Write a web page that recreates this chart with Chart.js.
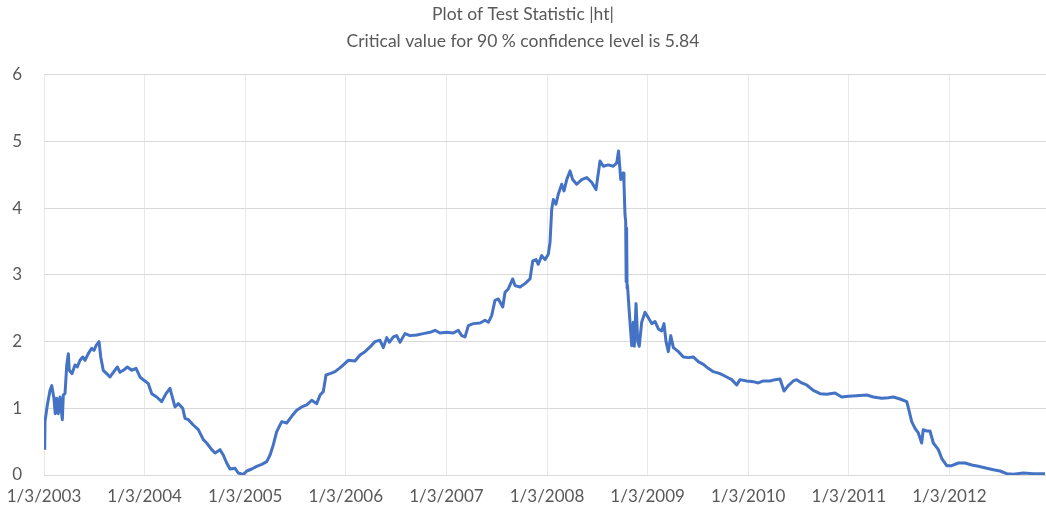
<!DOCTYPE html>
<html>
<head>
<meta charset="utf-8">
<title>Plot of Test Statistic |ht|</title>
<script src="https://cdn.jsdelivr.net/npm/chart.js@4"></script>
<style>
  body { margin: 0; background: #fff; }
</style>
</head>
<body>
<canvas id="myChart" width="1046" height="515"></canvas>
<script>
'use strict';

// observation time as decimal years (2003.0 = 1/3/2003)
var timeYears = [
  2003.007, 2003.010, 2003.033, 2003.060, 2003.077, 2003.099, 2003.112, 2003.126, 2003.142, 2003.159,
  2003.182, 2003.192, 2003.209, 2003.226, 2003.242, 2003.251, 2003.278, 2003.308, 2003.331, 2003.358,
  2003.385, 2003.408, 2003.440, 2003.474, 2003.497, 2003.517, 2003.547, 2003.564, 2003.589, 2003.623,
  2003.656, 2003.689, 2003.729, 2003.755, 2003.788, 2003.828, 2003.872, 2003.915, 2003.954, 2003.994,
  2004.037, 2004.071, 2004.120, 2004.170, 2004.213, 2004.252, 2004.279, 2004.302, 2004.335, 2004.379,
  2004.402, 2004.434, 2004.484, 2004.534, 2004.584, 2004.617, 2004.667, 2004.700, 2004.750, 2004.782,
  2004.816, 2004.849, 2004.899, 2004.931, 2004.981,
  2005.016, 2005.065, 2005.114, 2005.164, 2005.214, 2005.247, 2005.279, 2005.313, 2005.363, 2005.412,
  2005.462, 2005.512, 2005.562, 2005.611, 2005.661, 2005.711, 2005.744, 2005.776, 2005.803, 2005.843,
  2005.893, 2005.935, 2005.975,
  2006.025, 2006.091, 2006.141, 2006.191, 2006.241, 2006.290, 2006.340, 2006.373, 2006.407, 2006.433,
  2006.472, 2006.506, 2006.539, 2006.588, 2006.638, 2006.705, 2006.770, 2006.837, 2006.887, 2006.936,
  2007.003, 2007.069, 2007.118, 2007.152, 2007.185, 2007.218, 2007.267, 2007.334, 2007.384, 2007.417,
  2007.450, 2007.483, 2007.516, 2007.560, 2007.583, 2007.615, 2007.659, 2007.682, 2007.732, 2007.781,
  2007.831, 2007.858, 2007.891, 2007.913, 2007.947, 2007.980,
  2008.013, 2008.030, 2008.047, 2008.063, 2008.089, 2008.112, 2008.146, 2008.169, 2008.196, 2008.229,
  2008.255, 2008.295, 2008.345, 2008.395, 2008.444, 2008.487, 2008.527, 2008.560, 2008.609, 2008.659,
  2008.693, 2008.711, 2008.733, 2008.756, 2008.765, 2008.775, 2008.782, 2008.787, 2008.791, 2008.796,
  2008.800, 2008.818, 2008.842, 2008.858, 2008.868, 2008.885, 2008.902, 2008.917, 2008.941, 2008.974,
  2009.007, 2009.041, 2009.074, 2009.107, 2009.140, 2009.163, 2009.183, 2009.206, 2009.230, 2009.256,
  2009.306, 2009.355, 2009.405, 2009.454, 2009.504, 2009.554, 2009.603, 2009.653, 2009.720, 2009.786,
  2009.836, 2009.886, 2009.918, 2009.985,
  2010.051, 2010.100, 2010.150, 2010.217, 2010.266, 2010.316, 2010.356, 2010.398, 2010.448, 2010.482,
  2010.531, 2010.581, 2010.647, 2010.714, 2010.780, 2010.863, 2010.929, 2010.995,
  2011.078, 2011.178, 2011.244, 2011.327, 2011.393, 2011.443, 2011.509, 2011.576, 2011.601, 2011.625,
  2011.658, 2011.691, 2011.724, 2011.740, 2011.774, 2011.807, 2011.840, 2011.890, 2011.923, 2011.973,
  2012.023, 2012.089, 2012.155, 2012.222, 2012.288, 2012.371, 2012.437, 2012.503, 2012.570, 2012.635,
  2012.735, 2012.834, 2012.950
];

// |ht|
var htValues = [
  0.38, 0.80, 1.05, 1.27, 1.34, 1.15, 0.92, 1.15, 0.92, 1.17,
  0.83, 1.20, 1.22, 1.65, 1.82, 1.57, 1.52, 1.65, 1.62, 1.72,
  1.77, 1.72, 1.82, 1.90, 1.87, 1.94, 2.00, 1.77, 1.57, 1.52,
  1.47, 1.54, 1.62, 1.54, 1.57, 1.62, 1.57, 1.60, 1.47, 1.42,
  1.37, 1.22, 1.17, 1.10, 1.22, 1.30, 1.15, 1.02, 1.07, 1.00,
  0.85, 0.83, 0.75, 0.68, 0.53, 0.48, 0.38, 0.33, 0.38, 0.30,
  0.18, 0.09, 0.10, 0.03, 0.01,
  0.06, 0.09, 0.13, 0.16, 0.20, 0.30, 0.45, 0.65, 0.80, 0.78,
  0.88, 0.97, 1.02, 1.05, 1.12, 1.07, 1.20, 1.25, 1.50, 1.52,
  1.55, 1.60, 1.65,
  1.72, 1.71, 1.80, 1.85, 1.92, 2.00, 2.02, 1.91, 2.06, 1.99,
  2.07, 2.09, 1.99, 2.12, 2.09, 2.10, 2.12, 2.14, 2.17, 2.13,
  2.14, 2.13, 2.17, 2.09, 2.07, 2.24, 2.27, 2.28, 2.32, 2.29,
  2.39, 2.62, 2.64, 2.52, 2.74, 2.79, 2.94, 2.84, 2.82, 2.87,
  2.94, 3.21, 3.23, 3.16, 3.29, 3.23,
  3.31, 3.49, 3.99, 4.13, 4.06, 4.21, 4.36, 4.26, 4.43, 4.56,
  4.43, 4.36, 4.43, 4.46, 4.39, 4.28, 4.71, 4.63, 4.65, 4.63,
  4.68, 4.86, 4.43, 4.53, 4.38, 3.91, 3.80, 2.90, 3.70, 2.80,
  2.84, 2.44, 1.94, 2.29, 1.93, 2.57, 2.00, 1.93, 2.29, 2.44,
  2.36, 2.27, 2.30, 2.19, 2.16, 2.27, 2.00, 1.85, 2.09, 1.91,
  1.85, 1.77, 1.76, 1.77, 1.70, 1.66, 1.60, 1.55, 1.52, 1.47,
  1.43, 1.35, 1.43, 1.41,
  1.40, 1.38, 1.41, 1.41, 1.43, 1.44, 1.26, 1.34, 1.41, 1.43,
  1.38, 1.35, 1.27, 1.22, 1.21, 1.23, 1.17, 1.18,
  1.19, 1.20, 1.17, 1.15, 1.16, 1.17, 1.14, 1.10, 0.95, 0.80,
  0.70, 0.63, 0.48, 0.68, 0.66, 0.66, 0.48, 0.38, 0.25, 0.14,
  0.14, 0.18, 0.18, 0.15, 0.13, 0.10, 0.08, 0.06, 0.02, 0.01,
  0.03, 0.02, 0.02
];

var tickYears = [2003, 2004, 2005, 2006, 2007, 2008, 2009, 2010, 2011, 2012];
var tickLabels = ['1/3/2003', '1/3/2004', '1/3/2005', '1/3/2006', '1/3/2007',
                  '1/3/2008', '1/3/2009', '1/3/2010', '1/3/2011', '1/3/2012'];

var titleLines = ['Plot of Test Statistic |ht|', 'Critical value for 90 % confidence level is 5.84'];

var textColor = '#595959';
var fontFamily = 'Lato, "Open Sans", sans-serif';

const points = timeYears.map(function (t, i) {
    return { x: t, y: htValues[i] };
});

const data = {
    datasets: [{
        label: '|ht|',
        data: points,
        borderColor: '#4472C4',
        borderWidth: 3,
        pointRadius: 0,
        tension: 0,
        borderJoinStyle: 'round'
    }]
};

const options = {
    responsive: false,
    animation: false,
    layout: { padding: 0 },
    plugins: {
        legend: { display: false },
        tooltip: { enabled: false },
        title: {
            display: true,
            text: titleLines,
            color: textColor,
            font: { family: fontFamily, size: 17.5, weight: 'normal', lineHeight: 1.54 },
            padding: { top: 1, bottom: 20 }
        }
    },
    scales: {
        x: {
            type: 'linear',
            min: 2003,
            max: 2012.96,
            afterBuildTicks: function (scale) {
                scale.ticks = tickYears.map(function (v) { return { value: v }; });
            },
            afterFit: function (scale) {
                scale.height = 40;
                // first tick label may hang past the left edge, like in Excel
                scale.paddingLeft = 0;
                scale.paddingRight = 0;
            },
            ticks: {
                autoSkip: false,
                maxRotation: 0,
                padding: 11,
                color: textColor,
                font: { family: fontFamily, size: 17 },
                callback: function (value) {
                    return tickLabels[tickYears.indexOf(value)];
                }
            },
            grid: { color: '#e9e9e9', drawTicks: false },
            border: { display: false }
        },
        y: {
            min: 0,
            max: 6,
            afterFit: function (scale) { scale.width = 44; },
            ticks: {
                stepSize: 1,
                padding: 22,
                color: textColor,
                font: { family: fontFamily, size: 17 }
            },
            grid: { color: '#d9d9d9', drawTicks: false },
            border: { display: false }
        }
    }
};

const myChart = new Chart(document.getElementById('myChart'), {
    type: 'line',
    data: data,
    options: options
});
</script>
</body>
</html>
